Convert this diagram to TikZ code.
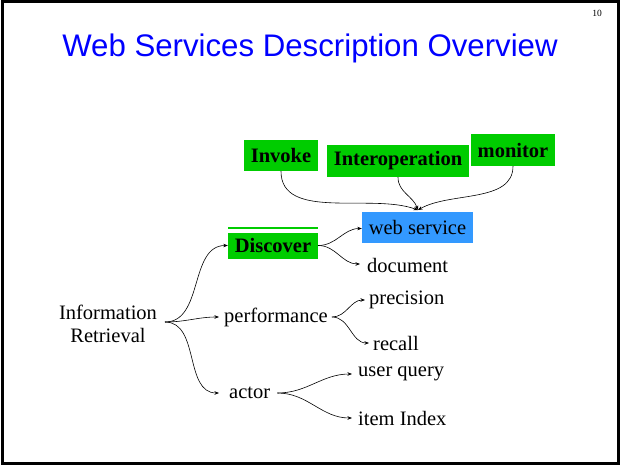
\documentclass[tikz,border=0pt]{standalone}
\usepackage{fontspec}
\setmainfont{Liberation Serif}
\newfontfamily\titlefont{Liberation Sans}
\usetikzlibrary{arrows.meta,calc}
\definecolor{boxgreen}{RGB}{0,204,0}
\definecolor{boxblue}{RGB}{51,153,255}
\definecolor{titleblue}{RGB}{0,0,255}
\tikzset{
  gbox/.style={fill=boxgreen, inner sep=0pt, font=\fontsize{20.5}{22}\selectfont\bfseries},
  bbox/.style={fill=boxblue, inner sep=0pt, font=\fontsize{20.5}{22}\selectfont},
  lbl/.style={inner sep=0pt, font=\fontsize{20.5}{23}\selectfont},
  conn/.style={-{Stealth[length=4.5pt,width=3.5pt]}, line width=0.6pt},
}
\begin{document}
\begin{tikzpicture}[x=1pt,y=-1pt]
\useasboundingbox (0,0) rectangle (621,466);
\draw[line width=2.5pt] (2.5,1.5) rectangle (618.5,463.5);
\node[inner sep=0pt, font=\fontsize{9.5}{10}\selectfont] (pg) at (597,13) {10};
\node[inner sep=0pt, text=titleblue, font=\titlefont\fontsize{31.2}{33}\selectfont] (title) at (310,48) {Web Services Description Overview};

\node[gbox, minimum width=74pt, minimum height=31pt] (invoke) at (281,155.5) {\raisebox{-1.5pt}{Invoke}};
\node[gbox, minimum width=142pt, minimum height=32pt] (interop) at (398,161) {\raisebox{-1.5pt}{Interoperation}};
\node[gbox, minimum width=84pt, minimum height=32pt] (monitor) at (513,150) {monitor};
\node[bbox, minimum width=111pt, minimum height=31pt] (ws) at (417.5,227.5) {web service};
\coordinate (wstop) at (418,210);

\node[gbox, minimum width=90pt, minimum height=26pt] (disc) at (273,245.5) {\raisebox{-2pt}{Discover}};
\fill[boxgreen] ($(disc.north west)+(0,-3.5)$) rectangle ($(disc.north west)+(90,-5.5)$);

\node[lbl, anchor=west] (doc) at (367,265) {document};
\node[lbl, align=center] (ir) at (108,324) {Information\\Retrieval};
\coordinate (irout) at (165,322);
\node[lbl, anchor=west] (perf) at (224,317) {performance};
\node[lbl, anchor=west] (prec) at (369,300) {precision};
\node[lbl, anchor=west] (rec) at (373,343) {recall};
\node[lbl, anchor=west] (actor) at (229,393) {actor};
\node[lbl, anchor=west] (uq) at (358,374) {user query};
\node[lbl, anchor=west] (ii) at (358,418) {item Index};

\draw[conn] (invoke.south) to[out=-90,in=160,looseness=0.9] (wstop);
\draw[conn] (interop.south) to[out=-90,in=110,looseness=1] (wstop);
\draw[conn] (monitor.south) to[out=-90,in=30,looseness=0.9] (wstop);

\draw[conn] (disc.east) to[out=0,in=180] ($(ws.west)+(0,1)$);
\draw[conn] (disc.east) to[out=0,in=180] ($(doc.west)+(-7,-1)$);

\draw[conn] (irout) to[out=0,in=180] (disc.west);
\draw[conn] (irout) to[out=0,in=180] ($(perf.west)+(-5,0)$);
\draw[conn] (irout) to[out=0,in=180] ($(actor.west)+(-10,0)$);

\draw[conn] ($(perf.east)+(4,0)$) to[out=0,in=180] ($(prec.west)+(-4,0)$);
\draw[conn] ($(perf.east)+(4,0)$) to[out=0,in=180] ($(rec.west)+(-4,0)$);

\draw[conn] ($(actor.east)+(7,0)$) to[out=0,in=180] ($(uq.west)+(-6,0)$);
\draw[conn] ($(actor.east)+(7,0)$) to[out=0,in=180] ($(ii.west)+(-6,0)$);
\end{tikzpicture}
\end{document}
